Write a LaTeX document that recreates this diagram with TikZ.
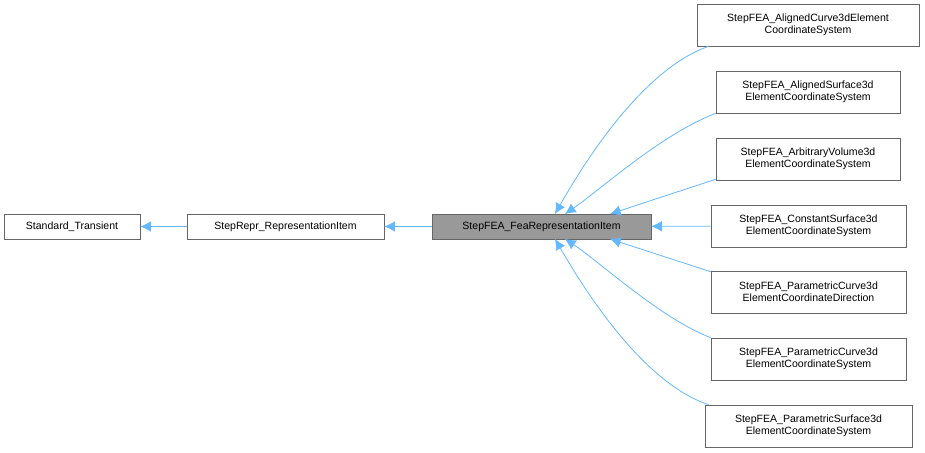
\documentclass[tikz,border=0pt]{standalone}
\usepackage{fontspec}
\setmainfont{Liberation Sans}
\usetikzlibrary{arrows.meta}
\definecolor{edgeblue}{HTML}{63B8FF}
\definecolor{boxgray}{HTML}{999999}
\definecolor{boxline}{HTML}{666666}
\tikzset{
  cls/.style={draw=boxline, fill=white, font=\fontsize{7.9}{9.3}\selectfont,
    align=center, inner sep=0pt, minimum height=18.75pt},
  inh/.style={draw=edgeblue, line width=0.6pt, -{Latex[length=8pt,width=8pt,fill=edgeblue]}},
}
\begin{document}
\begin{tikzpicture}[x=0.75pt, y=-0.75pt]
  \useasboundingbox (0,0) rectangle (925,453);

  \node[cls, minimum width=102pt] (trans) at (72,226.5) {Standard\_Transient};
  \node[cls, minimum width=147.75pt] (repr) at (285.5,226.5) {StepRepr\_RepresentationItem};
  \node[cls, fill=boxgray, minimum width=164.25pt] (fea) at (541.5,226.5) {StepFEA\_FeaRepresentationItem};

  \node[cls, minimum width=166.5pt, minimum height=31.5pt] (curve) at (808,25) {StepFEA\_AlignedCurve3dElement\\CoordinateSystem};
  \node[cls, minimum width=138pt, minimum height=31.5pt] (surf) at (808,92) {StepFEA\_AlignedSurface3d\\ElementCoordinateSystem};
  \node[cls, minimum width=138pt, minimum height=31.5pt] (vol) at (808,159) {StepFEA\_ArbitraryVolume3d\\ElementCoordinateSystem};
  \node[cls, minimum width=146.25pt, minimum height=31.5pt] (const) at (808.5,226) {StepFEA\_ConstantSurface3d\\ElementCoordinateSystem};
  \node[cls, minimum width=146.25pt, minimum height=31.5pt] (pcdir) at (808.5,292) {StepFEA\_ParametricCurve3d\\ElementCoordinateDirection};
  \node[cls, minimum width=146.25pt, minimum height=31.5pt] (pcsys) at (808.5,359) {StepFEA\_ParametricCurve3d\\ElementCoordinateSystem};
  \node[cls, minimum width=155.25pt, minimum height=31.5pt] (psurf) at (808.5,426) {StepFEA\_ParametricSurface3d\\ElementCoordinateSystem};

  % inheritance edges
  \draw[inh] (repr) -- (trans);
  \draw[inh] (fea) -- (repr);
  \draw[inh] (curve.south west) ++(12,0) coordinate (c1) (c1) .. controls (640,70) and (580,170) .. (555,214);
  \draw[inh] (surf.south west) coordinate (c2) (c2) .. controls (660,135) and (600,190) .. (565,214);
  \draw[inh] (vol.south west) ++(0,-1) coordinate (c3) (c3) -- (610,214);
  \draw[inh] (const) -- (fea);
  \draw[inh] (pcdir.north west) ++(0,1) coordinate (c5) (c5) -- (610,239);
  \draw[inh] (pcsys.north west) coordinate (c6) (c6) .. controls (660,318) and (600,262) .. (565,239);
  \draw[inh] (psurf.north west) ++(4,0) coordinate (c7) (c7) .. controls (640,382) and (580,282) .. (555,239);
\end{tikzpicture}
\end{document}
